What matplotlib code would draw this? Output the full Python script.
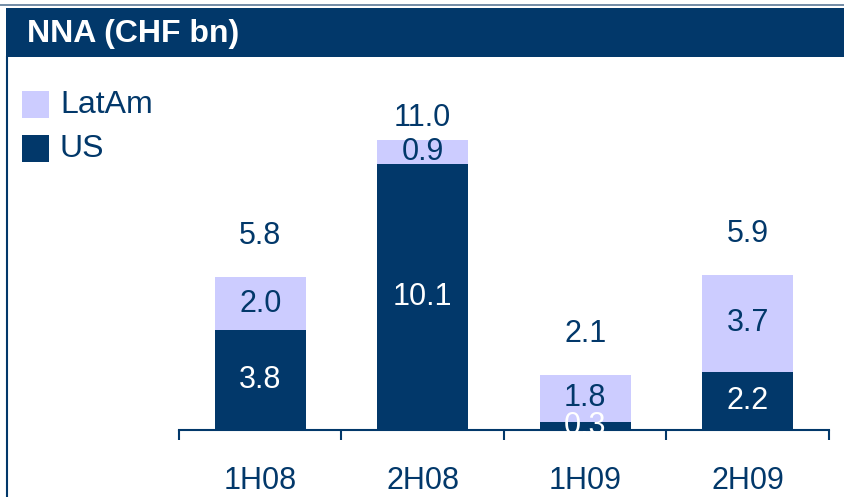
import matplotlib
matplotlib.use("Agg")
import matplotlib.pyplot as plt
from matplotlib.patches import Rectangle
from matplotlib.lines import Line2D

# data
periods = ["1H08", "2H08", "1H09", "2H09"]
us = [3.8, 10.1, 0.3, 2.2]
latam = [2.0, 0.9, 1.8, 3.7]
totals = [5.8, 11.0, 2.1, 5.9]
total_gap = [1.55, 0.85, 1.55, 1.55]  # label offset above bar (in CHF bn)

navy = "#02386a"
lilac = "#ccccff"
W, H = 845, 497

plt.rcParams['font.family'] = ['Liberation Sans', 'DejaVu Sans']

fig = plt.figure(figsize=(W / 100, H / 100), dpi=100)

# frame: top thin line, title bar, left border
fig.add_artist(Line2D([0, 1], [1 - 5 / H, 1 - 5 / H], color="#5a7896", lw=1.2))
fig.add_artist(Rectangle((6 / W, 1 - 57 / H), 1, 49 / H, color=navy, lw=0))
fig.add_artist(Line2D([7 / W, 7 / W], [0, 1 - 57 / H], color=navy, lw=1.5))
fig.text(27 / W, 1 - 34 / H, "NNA (CHF bn)", color="white", fontsize=23,
         fontweight="bold", va="center", ha="left")

# legend
for i, (lab, col) in enumerate([("LatAm", lilac), ("US", navy)]):
    ytop = 91 + i * 44
    fig.add_artist(Rectangle((22 / W, 1 - (ytop + 27) / H), 27 / W, 27 / H,
                             color=col, lw=0))
    fig.text(60 / W, 1 - (ytop + 14) / H, lab, color=navy, fontsize=23,
             va="center", ha="left")

ax = fig.add_axes([179 / W, 67 / H, 650 / W, 316 / H])
x = range(len(periods))
ax.bar(x, us, width=0.56, color=navy, lw=0)
ax.bar(x, latam, width=0.56, bottom=us, color=lilac, lw=0)

for i in x:
    ax.text(i, us[i] / 2, f"{us[i]:.1f}", color="white", fontsize=22,
            ha="center", va="center")
    ax.text(i, us[i] + latam[i] / 2, f"{latam[i]:.1f}", color=navy,
            fontsize=22, ha="center", va="center")
    ax.text(i, totals[i] + total_gap[i], f"{totals[i]:.1f}", color=navy,
            fontsize=22, ha="center", va="center")

ax.set_xlim(-0.5, 3.5)
ax.set_ylim(0, 12)
for s in ["top", "right", "left"]:
    ax.spines[s].set_visible(False)
ax.spines["bottom"].set_color(navy)
ax.spines["bottom"].set_linewidth(1.5)
ax.set_yticks([])
ax.set_xticks(list(x))
ax.set_xticklabels(periods, color=navy, fontsize=22)
ax.tick_params(axis="x", which="major", length=0, pad=26)
ax.set_xticks([-0.5, 0.5, 1.5, 2.5, 3.5], minor=True)
ax.tick_params(axis="x", which="minor", length=7, width=1.5, color=navy)

fig.savefig("out.png", dpi=100)
